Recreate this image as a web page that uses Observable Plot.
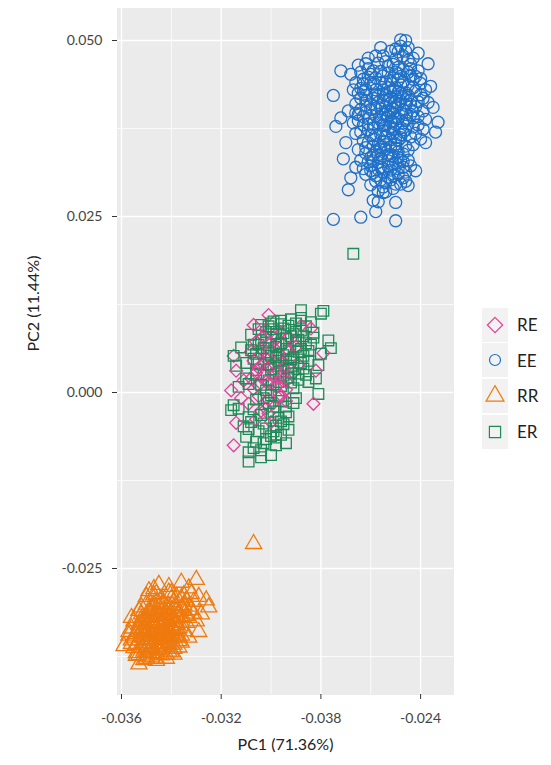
<!DOCTYPE html>
<html><head><meta charset="utf-8">
<script src="https://cdn.jsdelivr.net/npm/d3@7"></script>
<script src="https://cdn.jsdelivr.net/npm/@observablehq/plot@0.6"></script>
<style>
body{margin:0;background:#fff;font-family:Lato,"Open Sans",sans-serif}
#wrap{position:relative;width:551px;height:765px}
#legend{position:absolute;left:482px;top:307px}
.row{display:flex;align-items:center;height:35.6px}
.key{width:26px;height:34px;background:#F2F2F2;display:block}
.lab{margin-left:9px;font-size:17px;color:#222}
</style></head><body><div id="wrap"><div id="legend"></div></div><script>
const groups = ["RE","EE","RR","ER"];
const colors = ["#E2409A","#1F70C8","#EF7A0E","#1F8A57"];
const symbols = ["diamond2","circle","triangle","square"];
const xTicks = [-0.036,-0.032,-0.028,-0.024];
const xTickLabels = ["-0.036","-0.032","-0.038","-0.024"];
const xMinor = [-0.034,-0.030,-0.026];
const yTicks = [0.050,0.025,0.000,-0.025];
const yTickLabels = ["0.050","0.025","0.000","-0.025"];
const yMinor = [0.0375,0.0125,-0.0125,-0.0375];
const xTitle = "PC1 (71.36%)";
const yTitle = "PC2 (11.44%)";

const EE = [
[-0.0248,0.0501],[-0.0246,0.0500],[-0.0272,0.0457],[-0.0275,0.0422],[-0.0274,0.0378],[-0.0233,0.0384],[-0.0237,0.0467],[-0.0241,0.0482],
[-0.0245,0.0294],[-0.0250,0.0270],[-0.0259,0.0273],[-0.0257,0.0271],[-0.0258,0.0257],[-0.0269,0.0288],[-0.0275,0.0246],[-0.0264,0.0249],
[-0.0250,0.0244],[-0.0271,0.0332],[-0.0238,0.0355],[-0.0268,0.0305],[-0.0242,0.0315],[-0.0235,0.0405],[-0.0236,0.0435],[-0.0269,0.0400],
[-0.0270,0.0355],[-0.0265,0.0465],[-0.0256,0.0490],[-0.0252,0.0485],[-0.0243,0.0445],[-0.0239,0.0418],[-0.0260,0.0295],[-0.0254,0.0285],
[-0.0247,0.0305],[-0.0266,0.0320],[-0.0272,0.0390],[-0.0234,0.0370],[-0.0240,0.0360],[-0.0244,0.0460],[-0.0263,0.0445],[-0.0261,0.0475],
[-0.0253,0.0400],[-0.0250,0.0412],[-0.0256,0.0391],[-0.0248,0.0425],[-0.0259,0.0382],[-0.0251,0.0374],[-0.0246,0.0408],[-0.0255,0.0430],
[-0.0260,0.0410],[-0.0249,0.0389],[-0.0252,0.0443],[-0.0258,0.0365],[-0.0245,0.0436],[-0.0254,0.0352],[-0.0262,0.0398],[-0.0247,0.0370],
[-0.0250,0.0455],[-0.0257,0.0421],[-0.0244,0.0415],[-0.0253,0.0338],[-0.0261,0.0373],[-0.0249,0.0462],[-0.0256,0.0345],[-0.0246,0.0395],
[-0.0252,0.0428],[-0.0259,0.0438],[-0.0243,0.0400],[-0.0255,0.0318],[-0.0251,0.0325],[-0.0263,0.0358],[-0.0248,0.0449],[-0.0254,0.0470],
[-0.0247,0.0478],[-0.0250,0.0362],[-0.0264,0.0418],[-0.0242,0.0428],[-0.0256,0.0456],[-0.0252,0.0385],[-0.0245,0.0382],[-0.0258,0.0404],
[-0.0260,0.0334],[-0.0253,0.0306],[-0.0249,0.0342],[-0.0257,0.0327],[-0.0246,0.0350],[-0.0251,0.0397],[-0.0255,0.0415],[-0.0244,0.0450],
[-0.0262,0.0430],[-0.0250,0.0433],[-0.0248,0.0366],[-0.0259,0.0350],[-0.0254,0.0379],[-0.0247,0.0419],[-0.0265,0.0386],[-0.0256,0.0302],
[-0.0252,0.0349],[-0.0241,0.0392],[-0.0258,0.0447],[-0.0249,0.0484],[-0.0253,0.0464],[-0.0245,0.0472],[-0.0261,0.0460],[-0.0250,0.0296],
[-0.0257,0.0286],[-0.0243,0.0377],[-0.0266,0.0368],[-0.0240,0.0439],[-0.0255,0.0380],[-0.0248,0.0330],[-0.0259,0.0312],
[-0.0251,0.0403],[-0.0254,0.0396],[-0.0249,0.0410],[-0.0256,0.0387],[-0.0252,0.0419],[-0.0247,0.0401],[-0.0258,0.0393],[-0.0250,0.0381],
[-0.0255,0.0424],[-0.0248,0.0437],[-0.0253,0.0372],[-0.0246,0.0426],[-0.0257,0.0412],[-0.0251,0.0447],[-0.0259,0.0376],[-0.0244,0.0409],
[-0.0252,0.0359],[-0.0249,0.0453],[-0.0256,0.0367],[-0.0247,0.0441],[-0.0254,0.0406],[-0.0250,0.0390],[-0.0261,0.0389],[-0.0245,0.0422],
[-0.0253,0.0433],[-0.0258,0.0423],[-0.0248,0.0376],[-0.0255,0.0357],[-0.0251,0.0368],[-0.0246,0.0387],[-0.0260,0.0402],[-0.0252,0.0411],
[-0.0249,0.0427],[-0.0256,0.0440],[-0.0243,0.0433],[-0.0254,0.0346],[-0.0250,0.0353],[-0.0257,0.0338],[-0.0253,0.0392],[-0.0247,0.0459],
[-0.0251,0.0466],[-0.0245,0.0455],[-0.0255,0.0450],[-0.0259,0.0418],[-0.0248,0.0414],[-0.0252,0.0378],[-0.0256,0.0403],[-0.0250,0.0420],
[-0.0254,0.0364],[-0.0261,0.0381],[-0.0246,0.0373],[-0.0249,0.0358],[-0.0253,0.0329],[-0.0257,0.0353],[-0.0251,0.0336],[-0.0255,0.0312],
[-0.0258,0.0342],[-0.0247,0.0339],[-0.0252,0.0316],[-0.0250,0.0474],[-0.0244,0.0466],[-0.0248,0.0492],[-0.0246,0.0485],[-0.0253,0.0454],
[-0.0242,0.0449],[-0.0240,0.0423],[-0.0243,0.0390],[-0.0262,0.0408],[-0.0263,0.0392],[-0.0260,0.0365],[-0.0262,0.0348],[-0.0259,0.0329],
[-0.0256,0.0320],[-0.0249,0.0318],[-0.0245,0.0344],[-0.0244,0.0363],[-0.0254,0.0441],[-0.0251,0.0430],[-0.0248,0.0397],[-0.0255,0.0372],
[-0.0250,0.0347],[-0.0257,0.0383],[-0.0253,0.0415],[-0.0249,0.0444],[-0.0246,0.0416],[-0.0252,0.0399],[-0.0255,0.0395],[-0.0250,0.0406],
[-0.0258,0.0430],[-0.0247,0.0383],[-0.0254,0.0422],[-0.0251,0.0385],[-0.0256,0.0348],[-0.0248,0.0362],[-0.0259,0.0360],[-0.0244,0.0395],
[-0.0262,0.0422],[-0.0260,0.0440],[-0.0264,0.0432],[-0.0241,0.0413],
[-0.0262,0.0415],[-0.0264,0.0402],[-0.0263,0.0380],[-0.0265,0.0395],[-0.0261,0.0355],[-0.0264,0.0370],[-0.0262,0.0340],[-0.0260,0.0322],
[-0.0258,0.0308],[-0.0263,0.0427],[-0.0261,0.0448],[-0.0259,0.0457],[-0.0257,0.0468],[-0.0255,0.0478],[-0.0242,0.0406],[-0.0241,0.0380],
[-0.0242,0.0368],[-0.0243,0.0352],[-0.0245,0.0330],[-0.0247,0.0320],[-0.0241,0.0457],[-0.0243,0.0475],[-0.0245,0.0490],[-0.0250,0.0488],
[-0.0239,0.0400],[-0.0240,0.0446],[-0.0238,0.0430],[-0.0266,0.0410],[-0.0267,0.0383],[-0.0265,0.0345],[-0.0264,0.0330],[-0.0262,0.0310],
[-0.0254,0.0298],[-0.0251,0.0308],[-0.0248,0.0296],[-0.0260,0.0452],[-0.0263,0.0438],[-0.0238,0.0388],[-0.0237,0.0412],[-0.0239,0.0374],
[-0.0258,0.0300],[-0.0255,0.0292],[-0.0252,0.0302],[-0.0249,0.0310],[-0.0246,0.0313],[-0.0260,0.0315],[-0.0257,0.0317],[-0.0253,0.0321],
[-0.0250,0.0326],[-0.0247,0.0328],[-0.0261,0.0328],[-0.0256,0.0333],[-0.0252,0.0336],[-0.0249,0.0334],[-0.0255,0.0284],[-0.0251,0.0290],
[-0.0246,0.0300],[-0.0244,0.0322],[-0.0263,0.0318],[-0.0259,0.0337],
[-0.0268,0.0452],[-0.0266,0.0440],[-0.0265,0.0425],[-0.0267,0.0430],[-0.0264,0.0455],[-0.0262,0.0467],[-0.0258,0.0478],[-0.0266,0.0397]
];

const RR = [
[-0.0307,-0.0215],[-0.0330,-0.0266],[-0.0336,-0.0270],[-0.0345,-0.0273],[-0.0347,-0.0279],[-0.0333,-0.0278],[-0.0341,-0.0276],[-0.0326,-0.0295],
[-0.0325,-0.0305],[-0.0329,-0.0290],[-0.0332,-0.0286],[-0.0328,-0.0315],[-0.0329,-0.0340],[-0.0333,-0.0348],[-0.0356,-0.0352],[-0.0359,-0.0360],
[-0.0354,-0.0374],[-0.0351,-0.0380],[-0.0346,-0.0381],[-0.0357,-0.0340],[-0.0355,-0.0325],[-0.0352,-0.0305],[-0.0350,-0.0290],[-0.0349,-0.0282],
[-0.0339,-0.0372],[-0.0342,-0.0378],[-0.0353,-0.0386],
[-0.0344,-0.0332],[-0.0340,-0.0320],[-0.0348,-0.0343],[-0.0342,-0.0350],[-0.0338,-0.0336],[-0.0350,-0.0330],[-0.0346,-0.0315],[-0.0339,-0.0306],
[-0.0349,-0.0358],[-0.0343,-0.0300],[-0.0336,-0.0319],[-0.0352,-0.0347],[-0.0345,-0.0364],[-0.0337,-0.0353],[-0.0341,-0.0339],[-0.0347,-0.0326],
[-0.0351,-0.0368],[-0.0335,-0.0302],[-0.0340,-0.0293],[-0.0346,-0.0298],[-0.0353,-0.0336],[-0.0339,-0.0348],[-0.0344,-0.0356],[-0.0348,-0.0370],
[-0.0334,-0.0327],[-0.0342,-0.0312],[-0.0350,-0.0318],[-0.0345,-0.0340],[-0.0337,-0.0362],[-0.0354,-0.0359],[-0.0340,-0.0369],[-0.0332,-0.0309],
[-0.0336,-0.0292],[-0.0348,-0.0307],[-0.0355,-0.0348],[-0.0343,-0.0324],[-0.0338,-0.0311],[-0.0349,-0.0338],[-0.0352,-0.0322],[-0.0341,-0.0346],
[-0.0335,-0.0339],[-0.0346,-0.0352],[-0.0350,-0.0375],[-0.0344,-0.0373],[-0.0333,-0.0320],[-0.0347,-0.0288],[-0.0340,-0.0285],[-0.0334,-0.0295],
[-0.0353,-0.0310],[-0.0356,-0.0335],[-0.0342,-0.0361],[-0.0339,-0.0358],[-0.0348,-0.0361],[-0.0345,-0.0305],[-0.0338,-0.0326],[-0.0351,-0.0342],
[-0.0343,-0.0338],[-0.0336,-0.0345],[-0.0349,-0.0313],[-0.0354,-0.0370],[-0.0341,-0.0308],
[-0.0344,-0.0330],[-0.0346,-0.0336],[-0.0341,-0.0325],[-0.0348,-0.0345],[-0.0343,-0.0341],[-0.0339,-0.0322],[-0.0350,-0.0352],[-0.0345,-0.0318],
[-0.0347,-0.0357],[-0.0340,-0.0331],[-0.0342,-0.0316],[-0.0349,-0.0328],[-0.0352,-0.0362],[-0.0344,-0.0349],[-0.0337,-0.0314],[-0.0346,-0.0309],
[-0.0351,-0.0334],[-0.0343,-0.0359],[-0.0338,-0.0342],[-0.0348,-0.0320],[-0.0353,-0.0352],[-0.0341,-0.0303],[-0.0336,-0.0327],[-0.0345,-0.0344],
[-0.0350,-0.0365],[-0.0347,-0.0333],[-0.0340,-0.0350],[-0.0344,-0.0366],[-0.0352,-0.0327],[-0.0339,-0.0298],[-0.0349,-0.0350],[-0.0342,-0.0333],
[-0.0346,-0.0326],[-0.0337,-0.0334],[-0.0354,-0.0343],[-0.0341,-0.0357],[-0.0348,-0.0313],[-0.0345,-0.0361],[-0.0343,-0.0308],[-0.0351,-0.0355],
[-0.0338,-0.0318],[-0.0347,-0.0340],[-0.0340,-0.0314],[-0.0349,-0.0366],[-0.0344,-0.0323],[-0.0352,-0.0338],[-0.0335,-0.0310],[-0.0346,-0.0371],
[-0.0342,-0.0344],[-0.0350,-0.0323],[-0.0339,-0.0364],[-0.0347,-0.0301],[-0.0353,-0.0330],[-0.0341,-0.0336],[-0.0345,-0.0351],[-0.0336,-0.0306],
[-0.0348,-0.0363],[-0.0343,-0.0317],[-0.0351,-0.0347],[-0.0338,-0.0330],[-0.0344,-0.0342],[-0.0349,-0.0309],[-0.0355,-0.0363],[-0.0340,-0.0342],
[-0.0346,-0.0343],[-0.0342,-0.0322],[-0.0350,-0.0340],[-0.0337,-0.0347],[-0.0353,-0.0373],[-0.0345,-0.0330],[-0.0341,-0.0368],[-0.0348,-0.0352],
[-0.0343,-0.0347],[-0.0334,-0.0317],[-0.0347,-0.0316],[-0.0352,-0.0315],[-0.0339,-0.0337],[-0.0344,-0.0311],[-0.0356,-0.0357],[-0.0350,-0.0378],
[-0.0342,-0.0372],[-0.0346,-0.0378],[-0.0336,-0.0355],[-0.0333,-0.0304],[-0.0331,-0.0297],[-0.0338,-0.0290],[-0.0344,-0.0293],[-0.0350,-0.0301],
[-0.0356,-0.0320],[-0.0357,-0.0345],[-0.0341,-0.0284],[-0.0335,-0.0288],[-0.0346,-0.0286],[-0.0331,-0.0314],[-0.0330,-0.0325],[-0.0348,-0.0376]
];

const ER = [
[-0.0267,0.0197],[-0.0288,0.0117],[-0.0279,0.0116],[-0.0280,0.0112],[-0.0296,0.0102],[-0.0292,0.0104],[-0.0288,0.0106],[-0.0300,0.0098],
[-0.0304,0.0096],[-0.0299,0.0101],[-0.0284,0.0100],[-0.0277,0.0074],[-0.0276,0.0063],[-0.0280,0.0055],[-0.0281,0.0039],[-0.0282,0.0020],
[-0.0281,-0.0002],[-0.0285,0.0015],[-0.0284,0.0068],[-0.0283,0.0085],[-0.0312,0.0064],[-0.0315,0.0052],[-0.0314,0.0038],[-0.0310,0.0020],
[-0.0313,0.0008],[-0.0315,-0.0018],[-0.0313,-0.0023],[-0.0309,-0.0035],[-0.0311,-0.0048],[-0.0316,-0.0025],[-0.0293,-0.0053],[-0.0296,-0.0060],
[-0.0302,-0.0066],[-0.0298,-0.0075],[-0.0309,-0.0098],[-0.0309,-0.0085],[-0.0304,-0.0082],[-0.0300,-0.0089],[-0.0294,-0.0072],[-0.0306,-0.0070],
[-0.0310,-0.0063],[-0.0299,-0.0055],[-0.0295,-0.0045],
[-0.0298,0.0050],[-0.0294,0.0062],[-0.0301,0.0040],[-0.0290,0.0073],[-0.0305,0.0068],[-0.0296,0.0030],[-0.0292,0.0047],[-0.0303,0.0024],
[-0.0289,0.0058],[-0.0300,0.0078],[-0.0295,0.0084],[-0.0307,0.0048],[-0.0287,0.0034],[-0.0297,0.0015],[-0.0302,0.0003],[-0.0293,0.0021],
[-0.0306,-0.0010],[-0.0299,-0.0020],[-0.0304,-0.0032],[-0.0296,-0.0012],[-0.0291,0.0006],[-0.0288,0.0088],[-0.0299,0.0090],[-0.0308,0.0082],
[-0.0293,0.0095],[-0.0286,0.0070],[-0.0309,0.0012],[-0.0303,-0.0044],[-0.0297,-0.0036],[-0.0290,-0.0008],[-0.0289,0.0018],[-0.0301,0.0057],
[-0.0295,0.0053],[-0.0306,0.0032],[-0.0298,0.0065],[-0.0292,0.0080],[-0.0285,0.0045],[-0.0304,0.0074],[-0.0300,-0.0004],[-0.0294,-0.0028],
[-0.0307,-0.0024],[-0.0291,0.0038],[-0.0287,0.0052],[-0.0305,0.0090],[-0.0290,0.0098],[-0.0286,0.0094],[-0.0296,0.0070],[-0.0302,0.0086],
[-0.0308,0.0060],[-0.0298,0.0027],
[-0.0297,0.0045],[-0.0293,0.0059],[-0.0300,0.0033],[-0.0290,0.0065],[-0.0303,0.0063],[-0.0295,0.0024],[-0.0291,0.0050],[-0.0301,0.0017],
[-0.0288,0.0062],[-0.0298,0.0083],[-0.0294,0.0077],[-0.0305,0.0042],[-0.0289,0.0027],[-0.0296,0.0009],[-0.0303,-0.0008],[-0.0292,0.0014],
[-0.0299,-0.0027],[-0.0302,-0.0051],[-0.0296,-0.0041],[-0.0300,-0.0062],[-0.0305,-0.0055],[-0.0298,-0.0047],[-0.0303,-0.0072],[-0.0307,-0.0079],
[-0.0301,-0.0015],[-0.0294,-0.0020],[-0.0290,0.0086],[-0.0295,0.0091],[-0.0287,0.0080],[-0.0285,0.0059],[-0.0297,0.0069],[-0.0302,0.0071],
[-0.0306,0.0055],[-0.0299,0.0038],[-0.0293,0.0034],[-0.0288,0.0042],[-0.0304,0.0011],[-0.0297,-0.0006],[-0.0291,-0.0015],[-0.0306,0.0025],
[-0.0300,0.0052],[-0.0294,0.0047],[-0.0289,0.0075],[-0.0296,0.0097],[-0.0301,0.0094],[-0.0283,0.0078],[-0.0286,0.0025],[-0.0308,-0.0042],
[-0.0304,-0.0092],[-0.0298,-0.0064],[-0.0293,-0.0034],[-0.0307,0.0068],[-0.0310,0.0042],[-0.0309,-0.0052],[-0.0292,0.0027],[-0.0299,0.0012]
];

const RE = [
[-0.0301,0.0110],[-0.0307,0.0096],[-0.0315,0.0052],[-0.0314,0.0031],[-0.0311,0.0017],[-0.0316,0.0003],[-0.0312,-0.0008],[-0.0314,-0.0043],
[-0.0315,-0.0075],[-0.0283,-0.0016],[-0.0282,0.0031],[-0.0279,0.0056],[-0.0284,0.0091],[-0.0288,0.0095],
[-0.0300,0.0060],[-0.0296,0.0042],[-0.0303,0.0025],[-0.0298,0.0008],[-0.0305,-0.0005],[-0.0294,0.0016],[-0.0301,0.0036],[-0.0307,0.0045],
[-0.0299,-0.0015],[-0.0304,0.0055],[-0.0295,0.0068],[-0.0308,0.0020],[-0.0302,-0.0023],[-0.0297,0.0030],[-0.0306,0.0072],[-0.0292,0.0050],
[-0.0300,0.0012],[-0.0309,-0.0016],[-0.0296,-0.0004],[-0.0303,0.0080],[-0.0291,0.0028],[-0.0305,0.0035],[-0.0298,0.0076],[-0.0301,-0.0030],
[-0.0294,-0.0012],[-0.0307,0.0005],[-0.0293,0.0079],[-0.0302,0.0048],[-0.0289,0.0040],[-0.0290,0.0065],[-0.0306,-0.0038],[-0.0297,0.0056],
[-0.0299,0.0042],[-0.0302,0.0015],[-0.0296,0.0022],[-0.0304,0.0062],[-0.0300,0.0070],[-0.0297,-0.0008],[-0.0305,0.0010],[-0.0301,-0.0010],
[-0.0295,0.0035],[-0.0303,0.0040],[-0.0298,0.0052],[-0.0306,0.0028],[-0.0293,0.0060],[-0.0300,-0.0042],[-0.0308,0.0058],[-0.0296,0.0085],
[-0.0302,0.0090],[-0.0294,0.0004],[-0.0304,-0.0026],[-0.0299,0.0026]
];

const seriesData = {RE, EE, RR, ER};
const rows = g => seriesData[g].map(([x, y]) => ({x, y, g}));
const erRows = rows("ER");
const layers = [
  {data: rows("EE"), r: 6},
  {data: rows("RR"), r: 6},
  {data: erRows.filter((d, i) => i % 2 === 0), r: 6},
  {data: rows("RE"), r: 5.8},
  {data: erRows.filter((d, i) => i % 2 === 1), r: 6}
];

const plot = Plot.plot({
  width: 551, height: 765,
  marginLeft: 117, marginRight: 98, marginTop: 8, marginBottom: 71,
  style: {fontFamily: "Lato, 'Open Sans', sans-serif", background: "white"},
  x: {domain: [-0.03616, -0.02268]},
  y: {domain: [-0.0429, 0.05455]},
  color: {domain: groups, range: colors},
  symbol: {domain: groups, range: symbols},
  marks: [
    Plot.frame({fill: "#EBEBEB", stroke: "#EBEBEB"}),
    Plot.gridX(xMinor, {stroke: "white", strokeOpacity: 1, strokeWidth: 0.8}),
    Plot.gridY(yMinor, {stroke: "white", strokeOpacity: 1, strokeWidth: 0.8}),
    Plot.gridX(xTicks, {stroke: "white", strokeOpacity: 1, strokeWidth: 1.4}),
    Plot.gridY(yTicks, {stroke: "white", strokeOpacity: 1, strokeWidth: 1.4}),
    Plot.axisX(xTicks, {tickFormat: d => xTickLabels[xTicks.indexOf(d)], tickSize: 5, tickPadding: 14, fontSize: 14, stroke: "#333", fill: "#444", label: null}),
    Plot.axisY(yTicks, {tickFormat: d => yTickLabels[yTicks.indexOf(d)], tickSize: 5, tickPadding: 10, fontSize: 14, stroke: "#333", fill: "#444", label: null}),
    ...layers.map(L => Plot.dot(L.data, {x: "x", y: "y", symbol: "g", stroke: "g", r: L.r, strokeWidth: 1.3, fill: "none"})),
    Plot.text([xTitle], {frameAnchor: "bottom", dy: 55, fontSize: 16, fill: "#222"}),
    Plot.text([yTitle], {frameAnchor: "left", dx: -84, rotate: -90, fontSize: 16, fill: "#222"})
  ]
});
document.getElementById("wrap").prepend(plot);

const symTypes = {RE: d3.symbolDiamond2, EE: d3.symbolCircle, RR: d3.symbolTriangle, ER: d3.symbolSquare};
const symSize = {RE: 150, EE: 95, RR: 140, ER: 125};
const legend = d3.select("#legend");
groups.forEach((g, i) => {
  const row = legend.append("div").attr("class", "row");
  const svg = row.append("svg").attr("class", "key").attr("width", 26).attr("height", 34);
  svg.append("path")
    .attr("transform", "translate(13,17)")
    .attr("d", d3.symbol(symTypes[g], symSize[g])())
    .attr("fill", "none").attr("stroke", colors[i]).attr("stroke-width", 1.2);
  row.append("span").attr("class", "lab").text(g);
});
</script></body></html>
